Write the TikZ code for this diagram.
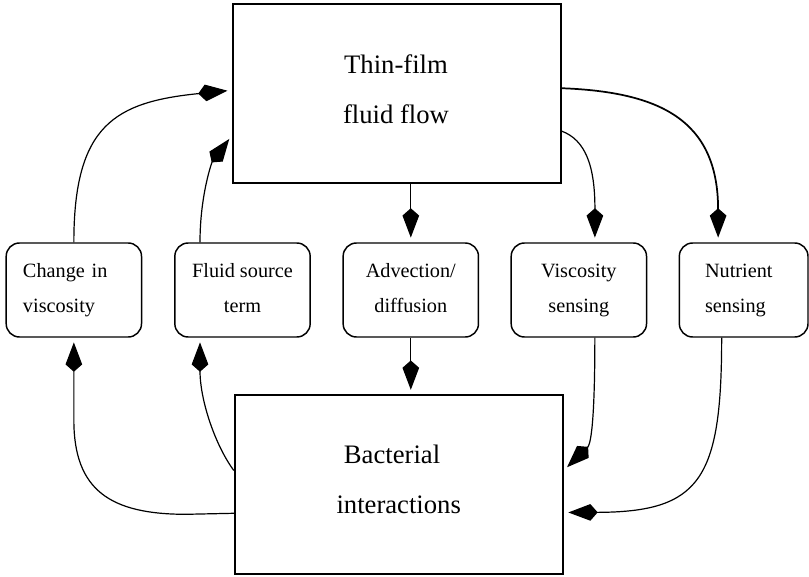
\documentclass[tikz,border=0pt]{standalone}
\usepackage{fontspec}
\setmainfont{Liberation Serif}
\usetikzlibrary{arrows.meta,calc}
\begin{document}
\begin{tikzpicture}[x=0.75pt,y=-0.75pt,
  bigbox/.style={draw,line width=1.4pt,inner sep=0pt,minimum width=246pt,minimum height=134pt},
  smallbox/.style={draw,line width=1.1pt,rounded corners=10pt,inner sep=0pt,minimum width=101.5pt,minimum height=70.5pt,font=\fontsize{15.2pt}{26.25pt}\selectfont},
  bigtext/.style={align=center,font=\fontsize{20pt}{37.5pt}\selectfont,inner sep=0pt},
  link/.style={line width=0.9pt,-{Kite[length=22pt,width=12.5pt,inset=5.5pt]},shorten >=3.5pt},
  boldlink/.style={link,line width=1.3pt}
]
\useasboundingbox (0,0) rectangle (809,577);

% main boxes
\node[bigbox] (flow) at (397,93.5) {};
\node[bigtext] (flowtxt) at (396,89) {Thin-film\\fluid flow};
\node[bigbox] (bact) at (398.75,484.75) {};
\node[bigtext] (bacttxt) at (398.7,479.5) {Bacterial\hspace*{10pt}\\interactions};

% small boxes
\node[smallbox,text width=76.3pt,align=left] (cv) at (73.85,290) {Change in\\viscosity};
\node[smallbox,align=center] (fs) at (242.5,290) {Fluid source\\term\vphantom{g}};
\node[smallbox,align=center] (adv) at (410.8,290) {Advection/\\diffusion\vphantom{g}};
\node[smallbox,align=center] (vs) at (578.85,290) {Viscosity\\sensing};
\node[smallbox,minimum width=96.5pt,text width=57.9pt,align=left] (ns) at (743.65,290) {Nutrient\\sensing};

% connectors up to thin-film flow
\draw[link] (cv.north) .. controls (73.85,125) and (115,102) .. ($(flow.north west)+(0,87)$);
\draw[link] ($(fs.north)+(-42.5,0)$) .. controls (200,195) and (212,162) .. ($(flow.north west)+(0,132)$);

% advection path
\draw[link] (adv.north |- flow.south) -- (adv.north);
\draw[link] (adv.south) -- (adv.south |- bact.north);

% from thin-film flow to sensing boxes
\draw[link] ($(flow.north east)+(0,128)$) .. controls (585,140) and (595,165) .. ($(vs.north)+(16,0)$);
\draw[boldlink] ($(flow.north east)+(0,85)$) .. controls (660,92) and (718,120) .. ($(ns.north)+(-25.5,0)$);

% from sensing boxes to bacterial interactions
\draw[link] ($(vs.south)+(16,0)$) .. controls (594.85,430) and (590,445) .. ($(bact.north east)+(0,76)$);
\draw[link] ($(ns.south)+(-22,0)$) .. controls (721.65,480) and (700,512) .. ($(bact.north east)+(0,118)$);

% from bacterial interactions to left boxes
\draw[link] ($(bact.north west)+(0,118.8)$) -- (186,514.3) .. controls (110,514.3) and (73.85,490) .. (73.85,420) -- (cv.south);
\draw[link] ($(bact.north west)+(0,76)$) .. controls (215,445) and (200,400) .. ($(fs.south)+(-42.5,0)$);
\end{tikzpicture}
\end{document}
